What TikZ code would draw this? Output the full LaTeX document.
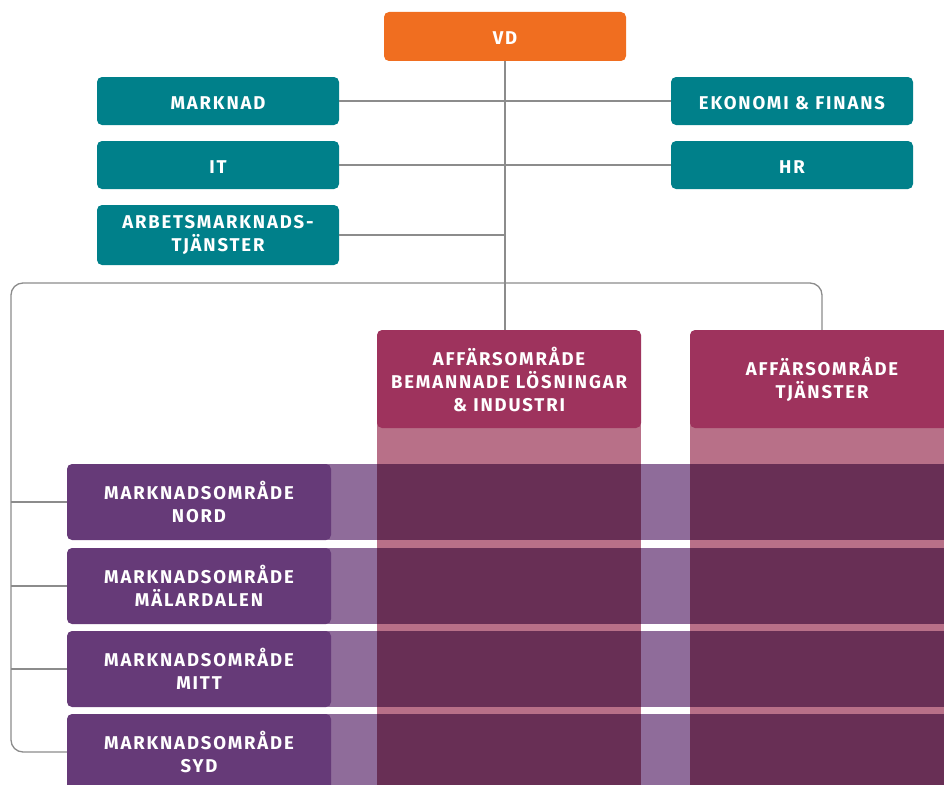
\documentclass[tikz,border=0pt]{standalone}
\usepackage{fontspec}
\setmainfont{Fira Sans}[LetterSpace=10]
\begin{document}
\begin{tikzpicture}[x=1pt,y=-1pt,
  lbl/.style={font=\bfseries\fontsize{18.5}{23}\selectfont, text=white, align=center, inner sep=0pt, rounded corners=5pt,
    execute at begin node={\rule{0pt}{17pt}}},
  orangebox/.style={lbl, fill=vdorange, minimum width=242pt, minimum height=49pt},
  tealbox/.style={lbl, fill=stabteal, minimum width=242pt, minimum height=48pt},
  affbox/.style={lbl, fill=affpink, minimum width=264pt, minimum height=98pt},
  mobox/.style={lbl, fill=mopurple, minimum width=264pt, minimum height=76pt},
  conn/.style={draw=linegray, line width=1.3pt}
]
\definecolor{vdorange}{HTML}{F06E20}
\definecolor{stabteal}{HTML}{00808A}
\definecolor{affpink}{HTML}{9E335D}
\definecolor{colpink}{HTML}{B87088}
\definecolor{mopurple}{HTML}{663A78}
\definecolor{bandpurple}{HTML}{8F6C9A}
\definecolor{overlap}{HTML}{682F55}
\definecolor{linegray}{HTML}{8C8C8C}
\useasboundingbox (0,0) rectangle (944,784);
\clip (0,0) rectangle (944,784);

% columns under business areas
\fill[colpink] (377,400) rectangle (641,790);
\fill[colpink] (690,400) rectangle (954,790);

% rows bands and overlaps
\foreach \t in {464,548,631,714}{
  \fill[bandpurple] (318,\t) rectangle (950,\t+76);
  \fill[overlap] (377,\t) rectangle (641,\t+76);
  \fill[overlap] (690,\t) rectangle (954,\t+76);
}

% nodes
\node[orangebox] (vd) at (505,36.5) {VD};
\node[tealbox] (mark) at (218,101) {MARKNAD};
\node[tealbox] (eko) at (792,101) {EKONOMI \& FINANS};
\node[tealbox] (it) at (218,165) {IT};
\node[tealbox] (hr) at (792,165) {HR};
\node[tealbox, minimum height=60pt] (arb) at (218,235) {ARBETSMARKNADS-\\TJÄNSTER};
\node[affbox] (abem) at (509,379) {AFFÄRSOMRÅDE\\BEMANNADE LÖSNINGAR\\\& INDUSTRI};
\node[affbox] (atj) at (822,379) {AFFÄRSOMRÅDE\\TJÄNSTER};
\node[mobox] (nord) at (199,502) {MARKNADSOMRÅDE\\NORD};
\node[mobox] (mal) at (199,586) {MARKNADSOMRÅDE\\MÄLARDALEN};
\node[mobox] (mitt) at (199,669) {MARKNADSOMRÅDE\\MITT};
\node[mobox] (syd) at (199,752) {MARKNADSOMRÅDE\\SYD};

% connectors
\coordinate (top) at (505,283);
\coordinate (lx) at (11,283);
\draw[conn] (vd.south) -- (vd.south |- abem.north);
\draw[conn] (mark.east) -- (eko.west);
\draw[conn] (it.east) -- (hr.west);
\draw[conn] (arb.east) -- (arb.east -| vd.south);
\draw[conn, rounded corners=12pt] (atj.north) -- (atj.north |- top) -- (lx) -- (lx |- syd.west) -- (syd.west);
\draw[conn] (lx |- nord.west) -- (nord.west);
\draw[conn] (lx |- mal.west) -- (mal.west);
\draw[conn] (lx |- mitt.west) -- (mitt.west);
\end{tikzpicture}
\end{document}
